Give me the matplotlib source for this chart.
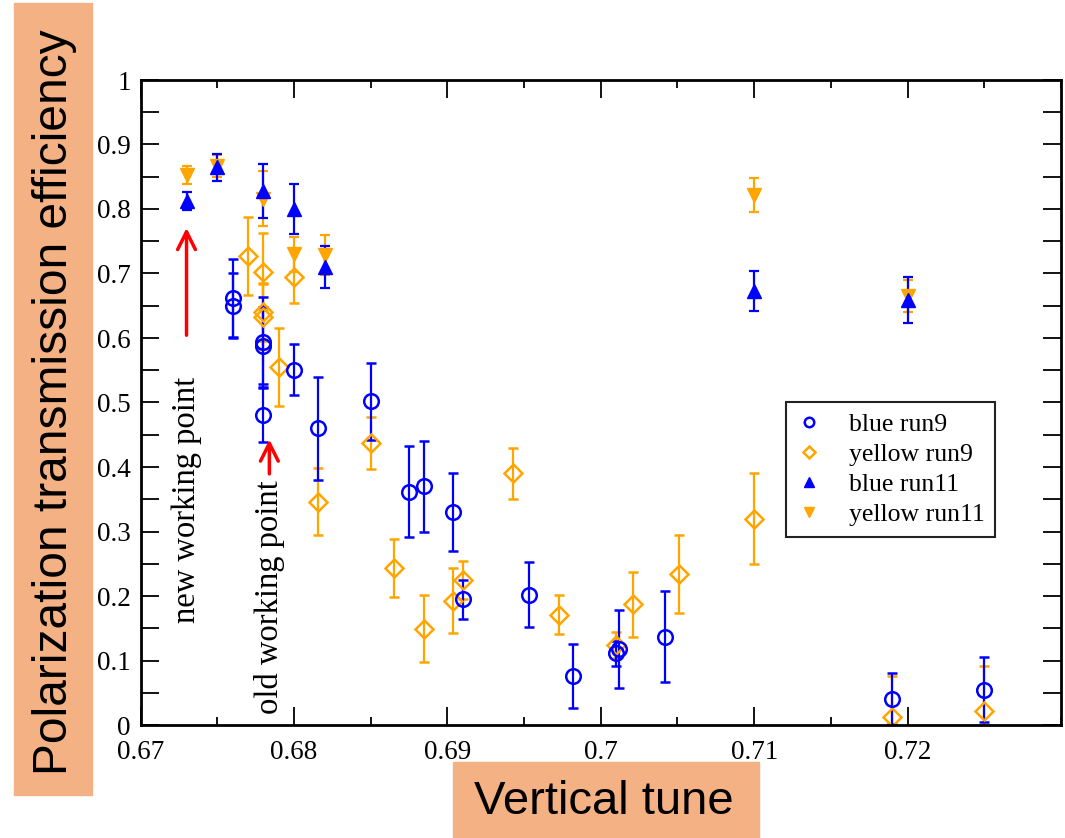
import matplotlib
matplotlib.use("Agg")
import matplotlib.pyplot as plt
from matplotlib.ticker import MultipleLocator, FormatStrFormatter
from matplotlib.patches import Rectangle

# blue run9 (open circles)
b9_x = [0.676, 0.676, 0.678, 0.678, 0.678, 0.680, 0.6816, 0.685, 0.6875, 0.6885,
        0.6904, 0.691, 0.6953, 0.6982, 0.7010, 0.7012, 0.7042, 0.719, 0.725]
b9_y = [0.662, 0.650, 0.594, 0.588, 0.481, 0.551, 0.460, 0.502, 0.362, 0.370,
        0.330, 0.195, 0.202, 0.076, 0.111, 0.118, 0.137, 0.041, 0.055]
b9_e = [0.060, 0.050, 0.070, 0.060, 0.042, 0.040, 0.080, 0.060, 0.070, 0.070,
        0.060, 0.030, 0.050, 0.050, 0.020, 0.060, 0.070, 0.040, 0.050]

# yellow run9 (open diamonds)
y9_x = [0.677, 0.678, 0.678, 0.678, 0.679, 0.680, 0.6816, 0.685, 0.6865, 0.6885,
        0.6904, 0.691, 0.6943, 0.6973, 0.7010, 0.7021, 0.7051, 0.710, 0.719, 0.725]
y9_y = [0.727, 0.703, 0.641, 0.633, 0.555, 0.695, 0.346, 0.437, 0.243, 0.149,
        0.193, 0.225, 0.390, 0.171, 0.124, 0.187, 0.234, 0.320, 0.013, 0.021]
y9_e = [0.060, 0.060, 0.045, 0.050, 0.060, 0.040, 0.052, 0.040, 0.045, 0.052,
        0.050, 0.030, 0.040, 0.030, 0.020, 0.050, 0.060, 0.070, 0.063, 0.070]

# blue run11 (filled up triangles)
b11_x = [0.673, 0.675, 0.678, 0.680, 0.682, 0.710, 0.720]
b11_y = [0.813, 0.865, 0.828, 0.800, 0.710, 0.673, 0.659]
b11_e = [0.014, 0.021, 0.042, 0.039, 0.032, 0.031, 0.035]

# yellow run11 (filled down triangles)
y11_x = [0.673, 0.675, 0.678, 0.680, 0.682, 0.710, 0.720]
y11_y = [0.852, 0.866, 0.816, 0.730, 0.728, 0.822, 0.665]
y11_e = [0.014, 0.017, 0.043, 0.027, 0.031, 0.026, 0.025]

xticks = [0.67, 0.68, 0.69, 0.70, 0.71, 0.72]

BLUE = "#0000ff"
ORANGE = "#ffa500"
SALMON = "#f4b183"
serif = "Liberation Serif"
sans = "Liberation Sans"

fig = plt.figure(figsize=(10.65, 8.38), dpi=100)
ax = fig.add_axes([140.5 / 1065, 113 / 838, 920.5 / 1065, 645 / 838])

common = dict(linestyle="none", elinewidth=1.6, capsize=3.6, capthick=1.6, markersize=10.5)
e1 = ax.errorbar(y11_x, y11_y, yerr=y11_e, fmt="v", color=ORANGE, ecolor=ORANGE, **common)
e2 = ax.errorbar(b11_x, b11_y, yerr=b11_e, fmt="^", color=BLUE, ecolor=BLUE, **common)
e3 = ax.errorbar(y9_x, y9_y, yerr=y9_e, fmt="D", color=ORANGE, ecolor=ORANGE,
                 mfc="none", mew=1.8, **dict(common, markersize=9))
e4 = ax.errorbar(b9_x, b9_y, yerr=b9_e, fmt="o", color=BLUE, ecolor=BLUE,
                 mfc="none", mew=1.8, **common)

ax.set_xlim(0.67, 0.73)
ax.set_ylim(0, 1)
ax.set_xticks(xticks)
ax.xaxis.set_minor_locator(MultipleLocator(0.005))
ax.yaxis.set_major_locator(MultipleLocator(0.1))
ax.yaxis.set_minor_locator(MultipleLocator(0.05))
ax.xaxis.set_major_formatter(FormatStrFormatter("%g"))
ax.yaxis.set_major_formatter(FormatStrFormatter("%g"))
ax.tick_params(which="both", direction="in", top=True, right=True, width=1.3)
ax.tick_params(axis="x", which="major", length=13, pad=11)
ax.tick_params(axis="x", which="minor", length=6)
ax.tick_params(axis="y", which="both", length=13, pad=7)
for lab in ax.get_xticklabels() + ax.get_yticklabels():
    lab.set_fontfamily(serif)
    lab.set_fontsize(19.5)
for sp in ax.spines.values():
    sp.set_linewidth(2)

# arrows and working point notes
ax.annotate("", xy=(0.673, 0.775), xytext=(0.673, 0.600),
            arrowprops=dict(arrowstyle="->", color="red", lw=2.5, mutation_scale=32))
ax.annotate("", xy=(0.6784, 0.447), xytext=(0.6784, 0.385),
            arrowprops=dict(arrowstyle="->", color="red", lw=2.5, mutation_scale=32))
ax.text(0.673, 0.349, "new working point", rotation=90, ha="center", va="center",
        family=serif, fontsize=23.5)
ax.text(0.6784, 0.198, "old working point", rotation=90, ha="center", va="center",
        family=serif, fontsize=23.5)

leg = ax.legend([e4[0], e3[0], e2[0], e1[0]],
                ["blue run9", "yellow run9", "blue run11", "yellow run11"],
                loc="upper left", bbox_to_anchor=(0.701, 0.50), borderaxespad=0,
                prop={"family": serif, "size": 18.5}, markerscale=0.65,
                fancybox=False, framealpha=1, edgecolor="#222222",
                handlelength=1.0, handletextpad=1.05, labelspacing=0.28,
                borderpad=0.4)
leg.get_frame().set_linewidth(1.5)

# salmon label boxes
fig.patches.append(Rectangle((14 / 1065, 1 - 795 / 838), 78 / 1065, 792 / 838,
                             transform=fig.transFigure, color=SALMON, zorder=0))
fig.patches.append(Rectangle((453 / 1065, 0), 306 / 1065, 76 / 838,
                             transform=fig.transFigure, color=SALMON, zorder=0))
fig.text(55 / 1065, 1 - 402 / 838, "Polarization transmission efficiency", rotation=90,
         ha="center", va="center", family=sans, fontsize=34.5)
fig.text(604 / 1065, 1 - 802 / 838, "Vertical tune", ha="center", va="center",
         family=sans, fontsize=34)

fig.savefig("out.png", dpi=100)
